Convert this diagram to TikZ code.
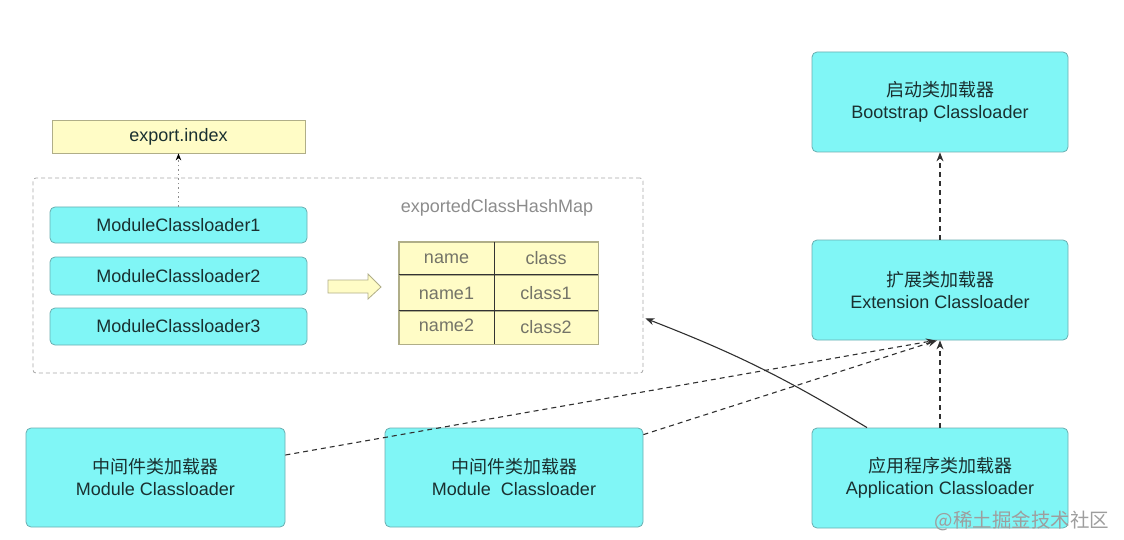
\documentclass[tikz,border=0pt]{standalone}
\usepackage{fontspec}
\setmainfont{Liberation Sans}
\newfontfamily\cjk{Noto Sans CJK SC}
\usetikzlibrary{arrows.meta}
\definecolor{cyanfill}{HTML}{80F6F6}
\definecolor{cyanline}{HTML}{6AAEB0}
\definecolor{yfill}{HTML}{FFFCC6}
\definecolor{yline}{HTML}{B0AE88}
\definecolor{txt}{HTML}{1A3030}
\definecolor{graytxt}{HTML}{747468}
\definecolor{conn}{HTML}{303030}
\begin{document}
\begin{tikzpicture}[x=1pt,y=-1pt,
  base/.style={font=\fontsize{18}{22}\selectfont, inner sep=0pt, align=center},
  loader/.style={base, draw=cyanline, fill=cyanfill, rounded corners=5pt, line width=0.8pt, text=txt},
  yellowbox/.style={base, draw=yline, fill=yfill, line width=0.8pt, text=txt},
  cell/.style={base, draw=yline, fill=yfill, line width=0.8pt, text=graytxt},
  container/.style={draw=black!35, dash pattern=on 4pt off 3pt, line width=0.8pt, rounded corners=3pt, inner sep=0pt},
  dasharrow/.style={draw=conn, dash pattern=on 5pt off 4pt, line width=1.1pt, -{Stealth[length=9pt,width=7pt]}},
  solidarrow/.style={draw=conn, line width=1.1pt, -{Stealth[length=9pt,width=7pt]}},
  dotarrow/.style={draw=black!45, dash pattern=on 1.5pt off 3pt, line width=0.9pt, -{Stealth[length=7pt,width=5.5pt,black]}}
]
\useasboundingbox (0,0) rectangle (1124,540);

% container
\node[container, minimum width=610pt, minimum height=195pt] (cont) at (338,275.5) {};

% left stack
\node[yellowbox, minimum width=253pt, minimum height=33pt] (export) at (178.5,136.5) {export.index};
\node[loader, minimum width=257pt, minimum height=36pt] (mcl1) at (178.5,225) {ModuleClassloader1};
\node[loader, minimum width=257pt, minimum height=38pt] (mcl2) at (178.5,276) {ModuleClassloader2};
\node[loader, minimum width=257pt, minimum height=37pt] (mcl3) at (178.5,326.5) {ModuleClassloader3};

% block arrow
\path[fill=yfill, draw=yline, line width=0.8pt] (328,280) -- (368,280) -- (368,274) -- (381,287) -- (368,299) -- (368,293) -- (328,293) -- cycle;

% hash map
\node[base, text=black!45] (title) at (497,208) {exportedClassHashMap};
\node[cell, minimum width=95pt, minimum height=33pt] (c11) at (446.5,258.5) {name};
\node[cell, minimum width=104pt, minimum height=33pt] (c12) at (546,258.5) {class};
\node[cell, minimum width=95pt, minimum height=36pt] (c21) at (446.5,293) {name1};
\node[cell, minimum width=104pt, minimum height=36pt] (c22) at (546,293) {class1};
\node[cell, minimum width=95pt, minimum height=33pt] (c31) at (446.5,327.5) {\raisebox{4pt}{name2}};
\node[cell, minimum width=104pt, minimum height=33pt] (c32) at (546,327.5) {class2};
\draw[yline, line width=0.8pt] (c11.north west) rectangle (c32.south east);
\draw[black!80, line width=1.3pt] (c11.north east) -- (c31.south east);
\draw[black!80, line width=1.3pt] (c21.north west) -- (c22.north east);
\draw[black!80, line width=1.3pt] (c31.north west) -- (c32.north east);

% right column
\node[loader, minimum width=256pt, minimum height=100pt] (boot) at (940,102) {{\cjk 启动类加载器}\\Bootstrap Classloader};
\node[loader, minimum width=256pt, minimum height=100pt] (ext) at (940,290) {{\cjk 扩展类加载器}\\Extension Classloader};
\node[loader, minimum width=256pt, minimum height=100pt] (app) at (940,478) {{\cjk 应用程序类加载器}\\Application Classloader};

% bottom modules
\node[loader, minimum width=259pt, minimum height=99pt] (mod1) at (155.5,477.5) {{\cjk 中间件类加载器}\\Module Classloader};
\node[loader, minimum width=258pt, minimum height=99pt] (mod2) at (514,477.5) {{\cjk 中间件类加载器}\\Module\ \ Classloader};

% watermark
\node[font=\cjk\fontsize{19.5}{22}\selectfont, text=black!38, inner sep=0pt] (wm) at (1022,521) {@稀土掘金技术社区};

% connectors
\draw[dotarrow] (mcl1.north) -- (export.south);
\draw[dasharrow] (ext.north) -- (boot.south);
\draw[dasharrow] (app.north) -- (ext.south);
\draw[dasharrow] ([yshift=22.5pt]mod1.east) -- ([xshift=-5pt]ext.south);
\draw[dasharrow] ([yshift=-7pt]mod2.north east) -- ([xshift=-3pt]ext.south);
\draw[solidarrow] ([xshift=-73pt]app.north) to[bend right=5] ([xshift=2pt,yshift=55pt]cont.south east);
\end{tikzpicture}
\end{document}
